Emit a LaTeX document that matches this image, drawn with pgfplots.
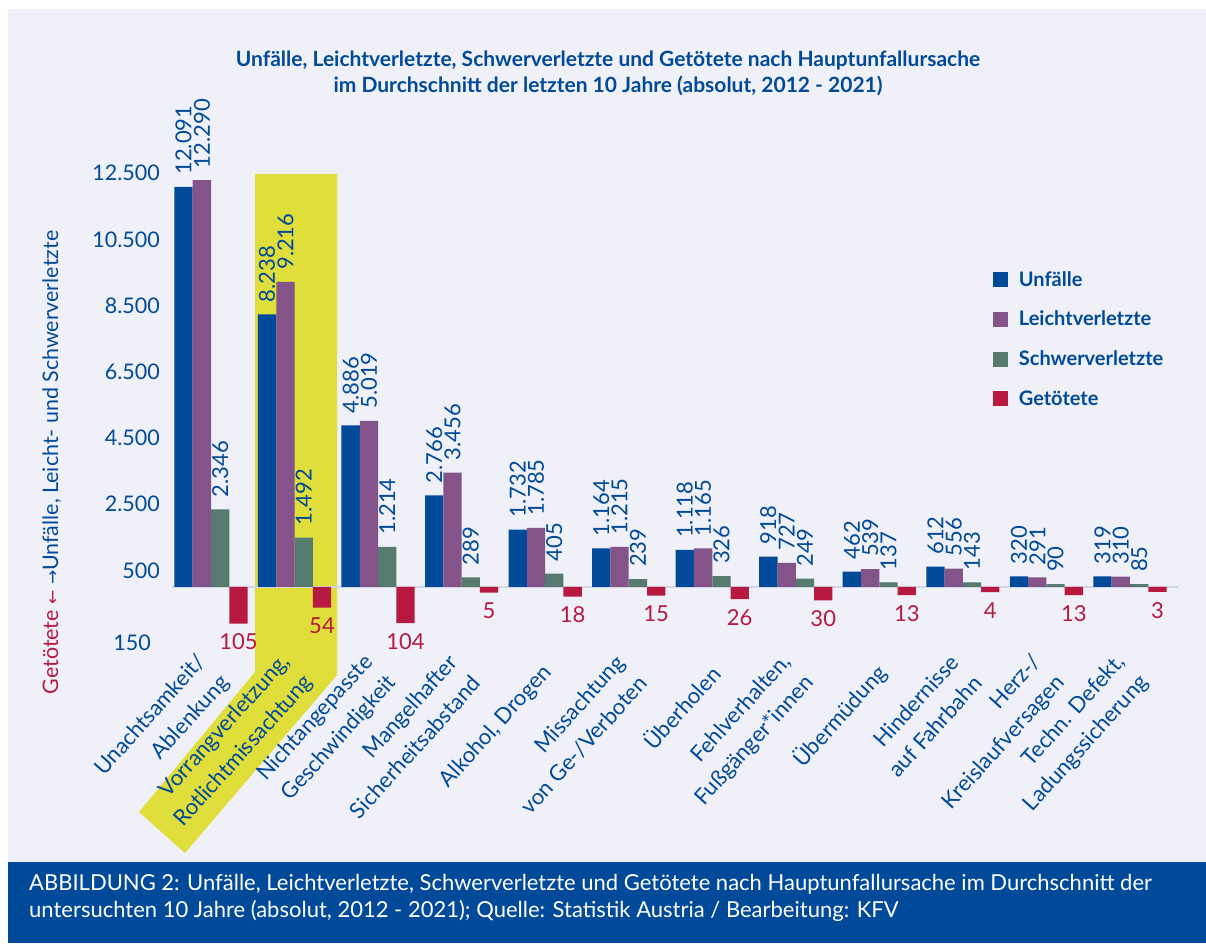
\documentclass[border=0pt]{standalone}
\usepackage{fontspec}
\setmainfont{Lato}
\newfontfamily\sym{DejaVu Sans}
\usepackage{pgfplots}
\usepackage{pgfplotstable}
\pgfplotsset{compat=1.18}
\definecolor{cBlue}{RGB}{0,74,153}
\definecolor{cPurple}{RGB}{131,83,138}
\definecolor{cGreen}{RGB}{86,122,110}
\definecolor{cRed}{RGB}{183,25,64}
\definecolor{cYellow}{RGB}{223,222,58}
\definecolor{cBg}{RGB}{239,240,248}
\definecolor{cLine}{RGB}{212,214,232}
\pgfkeys{/pgf/number format/.cd, fixed, precision=0, use comma, 1000 sep={.}, assume math mode=true}
\pgfplotsset{
  sq/.style={legend image code/.code={\fill[##1] (0pt,-7.5pt) rectangle (15pt,7.5pt);}},
  uplab/.style={nodes near coords, every node near coord/.append style={rotate=90, anchor=west, inner xsep=12pt, inner ysep=0pt, font=\fontsize{22}{24}\selectfont, text=cBlue}},
}
\pgfplotstableread{
i U L S G
0 12091 12290 2346 105
1 8238 9216 1492 54
2 4886 5019 1214 104
3 2766 3456 289 5
4 1732 1785 405 18
5 1164 1215 239 15
6 1118 1165 326 26
7 918 727 249 30
8 462 539 137 13
9 612 556 143 4
10 320 291 90 13
11 319 310 85 3
}\data
\begin{document}
\begin{tikzpicture}
\useasboundingbox (0pt,0pt) rectangle (1206pt,943pt);
\fill[cBg] (8pt,81pt) rectangle (1206pt,934pt);
\fill[cBlue] (8pt,0pt) rectangle (1206pt,81pt);
\fill[cYellow] (255pt,769pt) -- (337pt,769pt) -- (337pt,268pt) -- (185pt,90pt) -- (139pt,131pt) -- (255pt,271pt) -- cycle;
\node[anchor=base, text=cBlue, inner sep=0pt, font=\bfseries\fontsize{21}{24}\selectfont] at (608pt,876pt) {Unfälle, Leichtverletzte, Schwerverletzte und Getötete nach Hauptunfallursache};
\node[anchor=base, text=cBlue, inner sep=0pt, font=\bfseries\fontsize{21}{24}\selectfont] at (608pt,850pt) {im Durchschnitt der letzten 10 Jahre (absolut, 2012 - 2021)};
\node[anchor=base west, text=white, inner sep=0pt, font=\fontsize{22}{24}\selectfont] at (29pt,53pt) {ABBILDUNG 2: Unfälle, Leichtverletzte, Schwerverletzte und Getötete nach Hauptunfallursache im Durchschnitt der};
\node[anchor=base west, text=white, inner sep=0pt, font=\fontsize{22}{24}\selectfont] at (29pt,26pt) {untersuchten 10 Jahre (absolut, 2012 - 2021); Quelle: Statistik Austria / Bearbeitung: KFV};
\node[anchor=base, rotate=90, inner sep=0pt, text=cBlue, font=\fontsize{21.4}{22}\selectfont] at (58pt,480.5pt) {{\color{cRed}Getötete {\sym\fontsize{17}{18}\selectfont ←}} {\sym\fontsize{17}{18}\selectfont →}Unfälle, Leicht- und Schwerverletzte};
\begin{axis}[
  at={(172pt,283.2pt)}, anchor=south west,
  scale only axis, width=1006pt, height=509.7pt,
  xmin=-0.467, xmax=11.575, ymin=-2200, ymax=13200,
  scaled y ticks=false, scaled x ticks=false,
  axis line style={draw=none}, major tick length=0pt, tick style={draw=none},
  ybar, bar width=18.3pt, clip=false,
  xtick={0,...,11},
  xticklabels={{Unachtsamkeit/\\Ablenkung},{Vorrangverletzung,\\Rotlichtmissachtung},{Nichtangepasste\\Geschwindigkeit},{Mangelhafter\\Sicherheitsabstand},{Alkohol, Drogen},{Missachtung\\von Ge-/Verboten},{Überholen},{Fehlverhalten,\\Fußgänger*innen},{Übermüdung},{Hindernisse\\auf Fahrbahn},{Herz-/\\Kreislaufversagen},{Techn. Defekt,\\Ladungssicherung}},
  xticklabel style={xshift=3pt, yshift=-9pt, rotate=48, anchor=east, align=right, inner sep=0pt, font=\fontsize{22}{31}\selectfont, text=cBlue},
  ytick={500,2500,4500,6500,8500,10500,12500},
  yticklabels={500,2.500,4.500,6.500,8.500,10.500,12.500},
  extra y ticks={-1690}, extra y tick labels={150},
  extra y tick style={yticklabel style={xshift=-9pt}},
  yticklabel style={anchor=east, inner sep=0pt, xshift=-12pt, font=\fontsize{21.5}{24}\selectfont, text=cBlue},
  legend style={at={(0.816,0.766)}, anchor=north west, draw=none, fill=none, inner sep=0pt, outer sep=0pt,
    font=\bfseries\fontsize{20}{24}\selectfont, text=cBlue, row sep=19.4pt,
    /tikz/every odd column/.style={column sep=9pt}},
  legend cell align=left,
]
\draw[cLine, line width=2pt] (axis cs:-0.467,0) -- (axis cs:11.575,0);
\addplot[fill=cBlue, draw=none, bar shift=-27.45pt, uplab, sq] table[x=i, y=U] {\data};
\addplot[fill=cPurple, draw=none, bar shift=-9.15pt, uplab, sq] table[x=i, y=L] {\data};
\addplot[fill=cGreen, draw=none, bar shift=9.15pt, uplab, sq] table[x=i, y=S] {\data};
\addplot[fill=cRed, draw=none, bar shift=27.45pt, point meta=explicit, sq,
  nodes near coords, every node near coord/.append style={anchor=north, inner ysep=10pt, inner xsep=0pt, font=\fontsize{22}{24}\selectfont, text=cRed}]
  table[x=i, y expr={-(121+9.37*\thisrow{G})}, meta=G] {\data};
\legend{Unfälle,Leichtverletzte,Schwerverletzte,Getötete}
\end{axis}
\end{tikzpicture}
\end{document}
